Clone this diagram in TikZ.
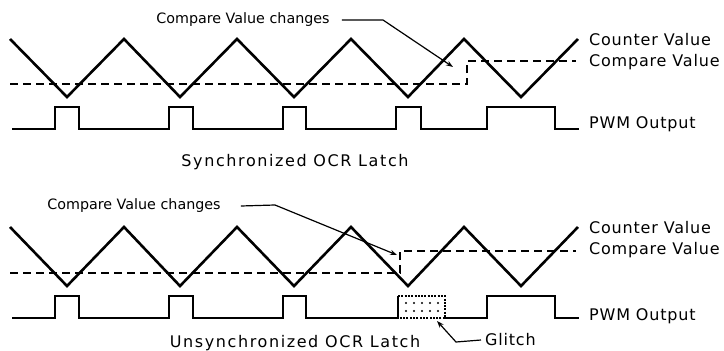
\documentclass[tikz,border=0pt]{standalone}
\usepackage{fontspec}
\setmainfont{DejaVu Sans}
\newfontfamily\sidefont{DejaVu Sans}[LetterSpace=5]
\newfontfamily\capfont{DejaVu Sans}[LetterSpace=10]
\usepackage{tikz}
\usetikzlibrary{arrows.meta}

\begin{document}
\begin{tikzpicture}[x=1pt,y=-1pt,
  counter/.style={line width=2.6pt, line join=miter},
  cmpval/.style={line width=1.3pt, dash pattern=on 8pt off 5pt},
  pwm/.style={line width=2.3pt, line join=miter},
  pointer/.style={line width=1.2pt, -{Stealth[length=7pt,width=5pt]}},
  sidelbl/.style={font=\sidefont\fontsize{16}{18}\selectfont, anchor=west, inner sep=0pt},
  caplbl/.style={font=\capfont\fontsize{16}{18}\selectfont, inner sep=0pt},
  notelbl/.style={font=\fontsize{14.3}{16}\selectfont, inner sep=0pt}]
  \useasboundingbox (0,0) rectangle (724,351);
  % synchronized
  \draw[counter] (10,39) -- (67,97) -- (124,39) -- (180,97) -- (237,39) -- (294,97)
    -- (351,39) -- (408,97) -- (464,39) -- (521,97) -- (578,39);
  \draw[cmpval] (10,84) -- (467,84) -- (467,61) -- (576,61);
  \draw[pwm] (12,129) -- (55,129) -- (55,107) -- (79,107) -- (79,129) -- (169,129)
    -- (169,107) -- (193,107) -- (193,129) -- (283,129) -- (283,107) -- (306,107)
    -- (306,129) -- (396,129) -- (396,107) -- (421,107) -- (421,129) -- (487,129)
    -- (487,107) -- (555,107) -- (555,129) -- (579,129);
  \node[sidelbl] (cnt1) at (589,40) {Counter Value};
  \node[sidelbl] (cmp1) at (589,62) {Compare Value};
  \node[sidelbl] (out1) at (589,124) {PWM Output};
  \node[caplbl] (cap1) at (295,162) {Synchronized OCR Latch};
  \node[notelbl] (chg1) at (243,20) {Compare Value changes};
  \coordinate (bend1) at (383,20);
  \coordinate (tip1) at (453,67);
  \draw[pointer] ([xshift=12pt]chg1.east) -- (bend1) -- (tip1);
  % unsynchronized
  \draw[counter] (10,227) -- (67,286) -- (124,227) -- (180,286) -- (237,227) -- (294,286)
    -- (351,227) -- (408,286) -- (464,227) -- (521,286) -- (578,227);
  \draw[cmpval] (10,273) -- (400,273) -- (400,251) -- (576,251);
  \draw[pwm] (12,318) -- (55,318) -- (55,296) -- (79,296) -- (79,318) -- (169,318)
    -- (169,296) -- (193,296) -- (193,318) -- (283,318) -- (283,296) -- (306,296)
    -- (306,318) -- (398,318) -- (398,296);
  \draw[pwm, dash pattern=on 2pt off 1.3pt] (398,296) -- (445,296) -- (445,318) -- (398,318);
  \foreach \gx in {406,414,422,430,438}
    \foreach \gy in {303,311}
      \fill (\gx,\gy) circle (1.1pt);
  \draw[pwm] (445,318) -- (487,318) -- (487,296) -- (555,296) -- (555,318) -- (579,318);
  \node[sidelbl] (cnt2) at (589,228) {Counter Value};
  \node[sidelbl] (cmp2) at (589,250) {Compare Value};
  \node[sidelbl] (out2) at (589,316) {PWM Output};
  \node[caplbl] (cap2) at (295,343) {Unsynchronized OCR Latch};
  \node[notelbl] (chg2) at (134,206) {Compare Value changes};
  \coordinate (bend2) at (275,205);
  \coordinate (tip2) at (397,255);
  \draw[pointer] ([xshift=20pt]chg2.east) -- (bend2) -- (tip2);
  \node[sidelbl] (glitch) at (485,340) {Glitch};
  \coordinate (bend3) at (456,342);
  \coordinate (tip3) at (437,321);
  \draw[pointer] ([xshift=-4pt]glitch.west) -- (bend3) -- (tip3);
\end{tikzpicture}
\end{document}
